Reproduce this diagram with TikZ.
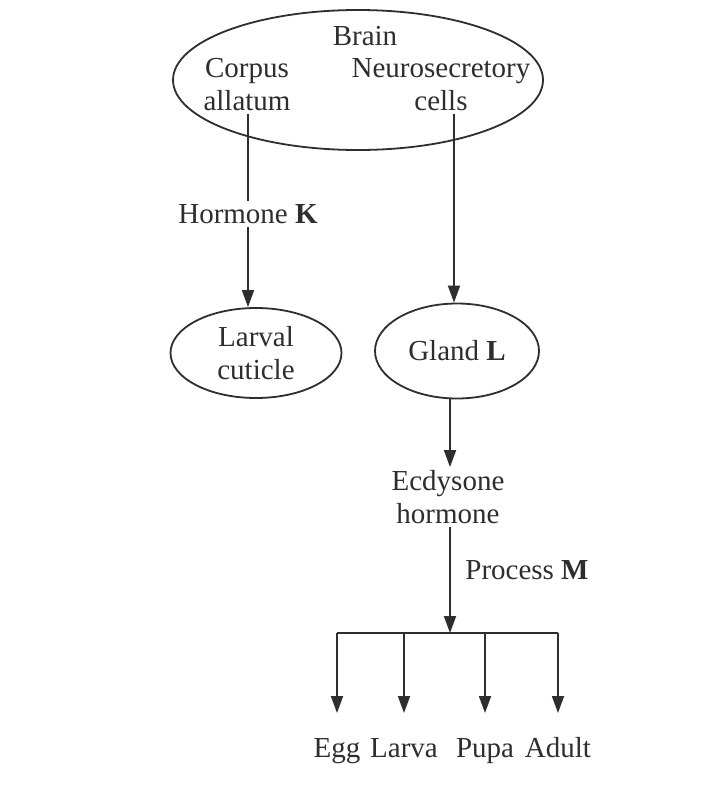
\documentclass[tikz,border=0pt]{standalone}
\usepackage{fontspec}
\setmainfont{Liberation Serif}
\usetikzlibrary{shapes.geometric,arrows.meta}
\definecolor{ink}{HTML}{2E2E2E}
\tikzset{
  lbl/.style={font=\fontsize{29}{33}\selectfont, text=ink, align=center, inner sep=3pt},
  oval/.style={draw=ink, line width=1.8pt, ellipse, inner sep=0pt, font=\fontsize{29}{33}\selectfont, text=ink, align=center},
  conn/.style={draw=ink, line width=1.8pt},
  arr/.style={conn, -{Triangle[length=17pt,width=12pt]}}
}
\begin{document}
\begin{tikzpicture}[x=1pt,y=-1pt]
\useasboundingbox[fill=white] (0,0) rectangle (724,793);
% Brain
\node[oval, minimum width=370pt, minimum height=140pt] (brain) at (358,80) {};
\node[lbl] (brainlbl) at (365,36) {Brain};
\node[lbl] (ca) at (247,85) {Corpus\\allatum};
\node[lbl] (nsc) at (441,85) {Neurosecretory\\cells};
% middle
\node[lbl] (hk) at (248,214) {Hormone \textbf{K}};
\node[oval, minimum width=171pt, minimum height=90pt] (lc) at (256,353) {Larval\\cuticle};
\node[oval, minimum width=164pt, minimum height=95pt] (gl) at (457,351) {Gland \textbf{L}};
\node[lbl] (ec) at (448,497) {Ecdysone\\hormone};
\node[lbl] (pm) at (527,570) {Process \textbf{M}};
\coordinate (j) at (450,633);
% outcomes
\node[lbl, anchor=base] (egg) at (337,757) {Egg};
\node[lbl, anchor=base] (larva) at (404,757) {Larva};
\node[lbl, anchor=base] (pupa) at (485,757) {Pupa};
\node[lbl, anchor=base] (adult) at (558,757) {Adult};
% connectors
\draw[conn] (hk.north |- ca.south) -- (hk.north);
\draw[arr] (hk.south) -- (hk.south |- lc.north);
\draw[arr] ([xshift=-3pt]gl.north |- nsc.south) -- ([xshift=-3pt]gl.north);
\draw[arr] (gl.south -| j) -- (ec.north -| j);
\draw[arr] (ec.south -| j) -- (j);
\draw[conn] (egg.north |- j) -- (adult.north |- j);
\draw[arr] (egg.north |- j) -- (egg.north |- 0,713);
\draw[arr] (larva.north |- j) -- (larva.north |- 0,713);
\draw[arr] (pupa.north |- j) -- (pupa.north |- 0,713);
\draw[arr] (adult.north |- j) -- (adult.north |- 0,713);
\end{tikzpicture}
\end{document}
